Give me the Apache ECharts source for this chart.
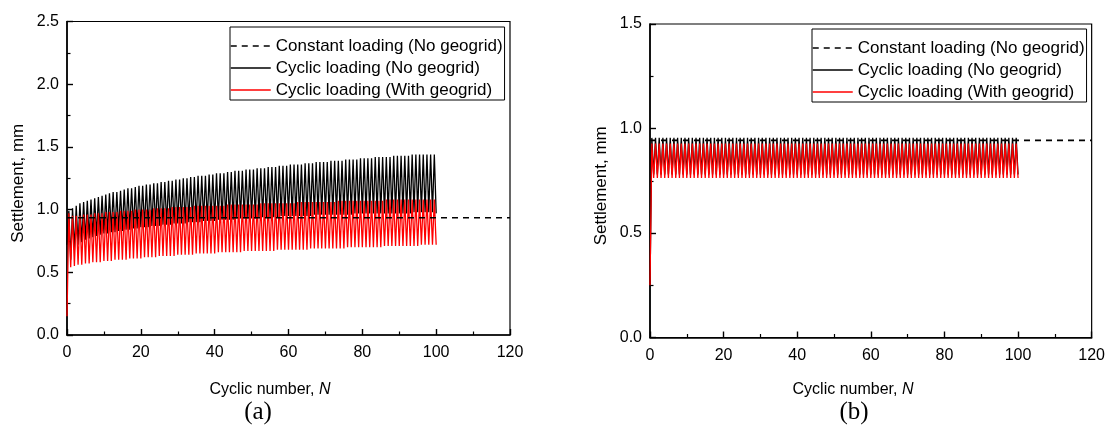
<!DOCTYPE html>
<html>
<head>
<meta charset="utf-8">
<title>Settlement under constant and cyclic loading</title>
<script src="https://cdn.jsdelivr.net/npm/echarts@6/dist/echarts.min.js"></script>
<style>
  html, body { margin: 0; padding: 0; background: #fff; }
  #chart { width: 1108px; height: 425px; }
</style>
</head>
<body>
<div id="chart"></div>
<script>
// Series names shown in both legends
const seriesNames = [
  'Constant loading (No geogrid)',
  'Cyclic loading (No geogrid)',
  'Cyclic loading (With geogrid)'
];

// Axis ticks
const xTicks = [0, 20, 40, 60, 80, 100, 120];
const yTicksA = [0.0, 0.5, 1.0, 1.5, 2.0, 2.5];
const yTicksB = [0.0, 0.5, 1.0, 1.5];

// (a) constant loading settlement, mm
const constantA = 0.935;
// (a) cyclic loading, no geogrid: settlement at the start, then the loaded peak and unloaded trough of each cycle
const startNoGridA = 0.72;
const peaksNoGridA = [
  0.99, 1.01, 1.03, 1.05, 1.06, 1.07, 1.08, 1.09, 1.10, 1.11,
  1.12, 1.13, 1.14, 1.14, 1.15, 1.16, 1.17, 1.17, 1.18, 1.19,
  1.19, 1.20, 1.20, 1.21, 1.21, 1.22, 1.22, 1.23, 1.23, 1.24,
  1.24, 1.25, 1.25, 1.26, 1.26, 1.27, 1.27, 1.27, 1.28, 1.28,
  1.29, 1.29, 1.29, 1.30, 1.30, 1.31, 1.31, 1.31, 1.32, 1.32,
  1.32, 1.33, 1.33, 1.33, 1.34, 1.34, 1.34, 1.35, 1.35, 1.35,
  1.36, 1.36, 1.36, 1.36, 1.37, 1.37, 1.37, 1.38, 1.38, 1.38,
  1.38, 1.39, 1.39, 1.39, 1.39, 1.40, 1.40, 1.40, 1.40, 1.41,
  1.41, 1.41, 1.41, 1.42, 1.42, 1.42, 1.42, 1.42, 1.43, 1.43,
  1.43, 1.43, 1.43, 1.44, 1.44, 1.44, 1.44, 1.44, 1.44, 1.44
];
const troughsNoGridA = [
  0.60, 0.68, 0.72, 0.74, 0.76, 0.77, 0.78, 0.79, 0.80, 0.81,
  0.81, 0.82, 0.82, 0.83, 0.83, 0.84, 0.84, 0.85, 0.85, 0.86,
  0.86, 0.86, 0.87, 0.87, 0.87, 0.88, 0.88, 0.88, 0.89, 0.89,
  0.89, 0.89, 0.90, 0.90, 0.90, 0.90, 0.91, 0.91, 0.91, 0.91,
  0.92, 0.92, 0.92, 0.92, 0.92, 0.93, 0.93, 0.93, 0.93, 0.93,
  0.93, 0.94, 0.94, 0.94, 0.94, 0.94, 0.94, 0.95, 0.95, 0.95,
  0.95, 0.95, 0.95, 0.95, 0.95, 0.95, 0.96, 0.96, 0.96, 0.96,
  0.96, 0.96, 0.96, 0.96, 0.96, 0.96, 0.96, 0.97, 0.97, 0.97,
  0.97, 0.97, 0.97, 0.97, 0.97, 0.97, 0.97, 0.97, 0.97, 0.97,
  0.97, 0.97, 0.97, 0.98, 0.98, 0.98, 0.98, 0.98, 0.98, 0.97
];
// (a) cyclic loading, with geogrid
const startGridA = 0.15;
const peaksGridA = [
  0.97, 0.95, 0.95, 0.95, 0.96, 0.96, 0.96, 0.97, 0.97, 0.97,
  0.98, 0.98, 0.98, 0.98, 0.99, 0.99, 0.99, 0.99, 1.00, 1.00,
  1.00, 1.00, 1.00, 1.01, 1.01, 1.01, 1.01, 1.01, 1.02, 1.02,
  1.02, 1.02, 1.02, 1.02, 1.03, 1.03, 1.03, 1.03, 1.03, 1.03,
  1.03, 1.03, 1.03, 1.04, 1.04, 1.04, 1.04, 1.04, 1.04, 1.04,
  1.04, 1.04, 1.05, 1.05, 1.05, 1.05, 1.05, 1.05, 1.05, 1.05,
  1.05, 1.05, 1.06, 1.06, 1.06, 1.06, 1.06, 1.06, 1.06, 1.06,
  1.06, 1.06, 1.06, 1.07, 1.07, 1.07, 1.07, 1.07, 1.07, 1.07,
  1.07, 1.07, 1.07, 1.07, 1.07, 1.07, 1.08, 1.08, 1.08, 1.08,
  1.08, 1.08, 1.08, 1.08, 1.08, 1.08, 1.08, 1.08, 1.08, 1.08
];
const troughsGridA = [
  0.54, 0.55, 0.56, 0.56, 0.57, 0.57, 0.58, 0.58, 0.58, 0.59,
  0.59, 0.59, 0.60, 0.60, 0.60, 0.60, 0.61, 0.61, 0.61, 0.61,
  0.62, 0.62, 0.62, 0.62, 0.63, 0.63, 0.63, 0.63, 0.63, 0.64,
  0.64, 0.64, 0.64, 0.64, 0.65, 0.65, 0.65, 0.65, 0.65, 0.65,
  0.66, 0.66, 0.66, 0.66, 0.66, 0.66, 0.66, 0.67, 0.67, 0.67,
  0.67, 0.67, 0.67, 0.67, 0.67, 0.67, 0.68, 0.68, 0.68, 0.68,
  0.68, 0.68, 0.68, 0.68, 0.68, 0.69, 0.69, 0.69, 0.69, 0.69,
  0.69, 0.69, 0.69, 0.69, 0.69, 0.70, 0.70, 0.70, 0.70, 0.70,
  0.70, 0.70, 0.70, 0.70, 0.70, 0.71, 0.71, 0.71, 0.71, 0.71,
  0.71, 0.71, 0.71, 0.71, 0.71, 0.72, 0.72, 0.72, 0.72, 0.72
];

// (b) constant loading settlement, mm
const constantB = 0.943;
// (b) cyclic loading, no geogrid
const startNoGridB = 0.25;
const peaksNoGridB = [
  0.955, 0.955, 0.955, 0.955, 0.955, 0.955, 0.955, 0.955, 0.955, 0.955,
  0.955, 0.955, 0.955, 0.955, 0.955, 0.955, 0.955, 0.955, 0.955, 0.955,
  0.955, 0.955, 0.955, 0.955, 0.955, 0.955, 0.955, 0.955, 0.955, 0.955,
  0.955, 0.955, 0.955, 0.955, 0.955, 0.955, 0.955, 0.955, 0.955, 0.955,
  0.955, 0.955, 0.955, 0.955, 0.955, 0.955, 0.955, 0.955, 0.955, 0.955,
  0.955, 0.955, 0.955, 0.955, 0.955, 0.955, 0.955, 0.955, 0.955, 0.955,
  0.955, 0.955, 0.955, 0.955, 0.955, 0.955, 0.955, 0.955, 0.955, 0.955,
  0.955, 0.955, 0.955, 0.955, 0.955, 0.955, 0.955, 0.955, 0.955, 0.955,
  0.955, 0.955, 0.955, 0.955, 0.955, 0.955, 0.955, 0.955, 0.955, 0.955,
  0.955, 0.955, 0.955, 0.955, 0.955, 0.955, 0.955, 0.955, 0.955, 0.955
];
const troughsNoGridB = [
  0.78, 0.78, 0.78, 0.78, 0.78, 0.78, 0.78, 0.78, 0.78, 0.78,
  0.78, 0.78, 0.78, 0.78, 0.78, 0.78, 0.78, 0.78, 0.78, 0.78,
  0.78, 0.78, 0.78, 0.78, 0.78, 0.78, 0.78, 0.78, 0.78, 0.78,
  0.78, 0.78, 0.78, 0.78, 0.78, 0.78, 0.78, 0.78, 0.78, 0.78,
  0.78, 0.78, 0.78, 0.78, 0.78, 0.78, 0.78, 0.78, 0.78, 0.78,
  0.78, 0.78, 0.78, 0.78, 0.78, 0.78, 0.78, 0.78, 0.78, 0.78,
  0.78, 0.78, 0.78, 0.78, 0.78, 0.78, 0.78, 0.78, 0.78, 0.78,
  0.78, 0.78, 0.78, 0.78, 0.78, 0.78, 0.78, 0.78, 0.78, 0.78,
  0.78, 0.78, 0.78, 0.78, 0.78, 0.78, 0.78, 0.78, 0.78, 0.78,
  0.78, 0.78, 0.78, 0.78, 0.78, 0.78, 0.78, 0.78, 0.78, 0.78
];
// (b) cyclic loading, with geogrid
const startGridB = 0.25;
const peaksGridB = [
  0.928, 0.928, 0.928, 0.928, 0.928, 0.928, 0.928, 0.928, 0.928, 0.928,
  0.928, 0.928, 0.928, 0.928, 0.928, 0.928, 0.928, 0.928, 0.928, 0.928,
  0.928, 0.928, 0.928, 0.928, 0.928, 0.928, 0.928, 0.928, 0.928, 0.928,
  0.928, 0.928, 0.928, 0.928, 0.928, 0.928, 0.928, 0.928, 0.928, 0.928,
  0.928, 0.928, 0.928, 0.928, 0.928, 0.928, 0.928, 0.928, 0.928, 0.928,
  0.928, 0.928, 0.928, 0.928, 0.928, 0.928, 0.928, 0.928, 0.928, 0.928,
  0.928, 0.928, 0.928, 0.928, 0.928, 0.928, 0.928, 0.928, 0.928, 0.928,
  0.928, 0.928, 0.928, 0.928, 0.928, 0.928, 0.928, 0.928, 0.928, 0.928,
  0.928, 0.928, 0.928, 0.928, 0.928, 0.928, 0.928, 0.928, 0.928, 0.928,
  0.928, 0.928, 0.928, 0.928, 0.928, 0.928, 0.928, 0.928, 0.928, 0.928
];
const troughsGridB = [
  0.763, 0.763, 0.763, 0.763, 0.763, 0.763, 0.763, 0.763, 0.763, 0.763,
  0.763, 0.763, 0.763, 0.763, 0.763, 0.763, 0.763, 0.763, 0.763, 0.763,
  0.763, 0.763, 0.763, 0.763, 0.763, 0.763, 0.763, 0.763, 0.763, 0.763,
  0.763, 0.763, 0.763, 0.763, 0.763, 0.763, 0.763, 0.763, 0.763, 0.763,
  0.763, 0.763, 0.763, 0.763, 0.763, 0.763, 0.763, 0.763, 0.763, 0.763,
  0.763, 0.763, 0.763, 0.763, 0.763, 0.763, 0.763, 0.763, 0.763, 0.763,
  0.763, 0.763, 0.763, 0.763, 0.763, 0.763, 0.763, 0.763, 0.763, 0.763,
  0.763, 0.763, 0.763, 0.763, 0.763, 0.763, 0.763, 0.763, 0.763, 0.763,
  0.763, 0.763, 0.763, 0.763, 0.763, 0.763, 0.763, 0.763, 0.763, 0.763,
  0.763, 0.763, 0.763, 0.763, 0.763, 0.763, 0.763, 0.763, 0.763, 0.763
];

// Cycle N loads at N - 0.5 (peak) and unloads at N (trough)
function cyclePath(start, peaks, troughs) {
  const pts = [[0, start]];
  for (let i = 0; i < peaks.length; i++) {
    pts.push([i + 0.5, peaks[i]]);
    pts.push([i + 1, troughs[i]]);
  }
  return pts;
}

const FONT = '"Liberation Sans", Arial, sans-serif';
const SERIF = '"Liberation Serif", "Times New Roman", serif';
const INK = '#000';

function xAxisFor(gridIndex) {
  return {
    type: 'value', gridIndex,
    min: xTicks[0], max: xTicks[xTicks.length - 1], interval: xTicks[1] - xTicks[0],
    axisLine: { lineStyle: { color: INK, width: 1.6 } },
    axisTick: { inside: true, length: 6, lineStyle: { color: INK, width: 1.4 } },
    minorTick: { show: true, splitNumber: 2, length: 3.5, lineStyle: { color: INK, width: 1.2 } },
    splitLine: { show: false },
    axisLabel: { color: INK, fontFamily: FONT, fontSize: 16, margin: 10 }
  };
}
function yAxisFor(gridIndex, ticks) {
  return {
    type: 'value', gridIndex,
    min: ticks[0], max: ticks[ticks.length - 1], interval: ticks[1] - ticks[0],
    name: 'Settlement, mm', nameLocation: 'middle', nameGap: 40,
    nameTextStyle: { color: INK, fontFamily: FONT, fontSize: 17, padding: [0, 10, 0, 0] },
    axisLine: { lineStyle: { color: INK, width: 1.6 } },
    axisTick: { inside: true, length: 6, lineStyle: { color: INK, width: 1.4 } },
    minorTick: { show: true, splitNumber: 2, length: 3.5, lineStyle: { color: INK, width: 1.2 } },
    splitLine: { show: false },
    axisLabel: { color: INK, fontFamily: FONT, fontSize: 16, margin: 8,
      formatter: v => v.toFixed(1) }
  };
}
function legendFor(left, top) {
  return {
    data: [seriesNames[0], seriesNames[1], seriesNames[2]],
    orient: 'vertical', left, top,
    itemWidth: 40, itemHeight: 12, itemGap: 4,
    padding: [10, 2, 1, 0],
    borderColor: INK, borderWidth: 1, backgroundColor: '#fff',
    itemStyle: { opacity: 0 },
    lineStyle: { width: 1.5 },
    textStyle: { color: INK, fontFamily: FONT, fontSize: 17, lineHeight: 18 },
    selectedMode: false
  };
}
function lineSeries(name, gi, data, color, width, dash, z) {
  return {
    name, type: 'line', xAxisIndex: gi, yAxisIndex: gi, data,
    showSymbol: false, symbol: 'none', animation: false, z,
    lineStyle: { color, width, type: dash || 'solid' },
    itemStyle: { color }
  };
}
function centeredText(x, y, text, font, rich) {
  return { type: 'text', x, y, style: {
    text, fill: INK, font, align: 'center', verticalAlign: 'middle', rich } };
}
const italicN = { i: { fontStyle: 'italic', fontFamily: FONT, fontSize: 16, fill: INK } };

const chart = echarts.init(document.getElementById('chart'), null, { renderer: 'canvas' });
chart.setOption({
  backgroundColor: '#fff',
  animation: false,
  grid: [
    { left: 67, top: 21.5, width: 443, height: 313.5, show: true, borderColor: INK, borderWidth: 1.2 },
    { left: 650, top: 24, width: 444, height: 313.5, show: true, borderColor: INK, borderWidth: 1.2 }
  ],
  xAxis: [xAxisFor(0), xAxisFor(1)],
  yAxis: [yAxisFor(0, yTicksA), yAxisFor(1, yTicksB)],
  legend: [legendFor(230, 27), legendFor(812, 29)],
  series: [
    lineSeries(seriesNames[1], 0, cyclePath(startNoGridA, peaksNoGridA, troughsNoGridA), '#000', 1.3, null, 2),
    lineSeries(seriesNames[2], 0, cyclePath(startGridA, peaksGridA, troughsGridA), '#ff0000', 1.3, null, 3),
    lineSeries(seriesNames[0], 0, [[xTicks[0], constantA], [xTicks[xTicks.length - 1], constantA]], '#000', 1.6, [6, 5], 4),
    lineSeries(seriesNames[1], 1, cyclePath(startNoGridB, peaksNoGridB, troughsNoGridB), '#000', 1.3, null, 2),
    lineSeries(seriesNames[2], 1, cyclePath(startGridB, peaksGridB, troughsGridB), '#ff0000', 1.3, null, 3),
    lineSeries(seriesNames[0], 1, [[xTicks[0], constantB], [xTicks[xTicks.length - 1], constantB]], '#000', 1.6, [6, 5], 4)
  ],
  graphic: [
    centeredText(270, 390, 'Cyclic number, {i|N}', '16px ' + FONT, italicN),
    centeredText(853, 390, 'Cyclic number, {i|N}', '16px ' + FONT, italicN),
    centeredText(258, 412, '(a)', '25px ' + SERIF),
    centeredText(854, 412, '(b)', '25px ' + SERIF)
  ]
});
</script>
</body>
</html>
